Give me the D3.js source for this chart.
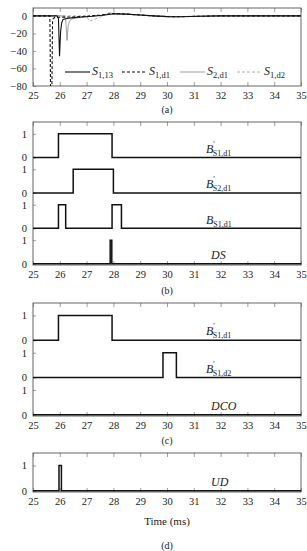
<!DOCTYPE html>
<html>
<head>
<meta charset="utf-8">
<script src="https://cdn.jsdelivr.net/npm/d3@7"></script>
<style>
  body { margin: 0; background: #fff; }
  svg { display: block; font-family: "Liberation Serif", "DejaVu Serif", serif; }
  .tick text { font-size: 10.5px; fill: #222; }
  .lbl { font-size: 12px; fill: #222; }
</style>
</head>
<body>
<div id="chart"></div>
<script>
// x axis shared by all panels
const timeTicks = [25, 26, 27, 28, 29, 30, 31, 32, 33, 34, 35];

// (a) signals, [time ms, value]
const s113 = [[25,0],[25.9,0],[25.95,-3],[25.99,-46],[26.03,-18],[26.07,-8],[26.12,-4],[26.25,-3],[26.5,-2],[26.8,-1.2],[27.2,-0.5],[27.6,0.8],[28,2.5],[28.5,2],[29,1],[29.5,0],[30,-0.8],[30.6,-1],[31.2,-0.4],[32,0],[35,0]];
const s1d1 = [[25,0],[25.63,0],[25.66,-100],[25.7,-100],[25.73,-4],[25.8,-2],[26,-1.5],[26.5,-1.2],[27,-0.4],[27.5,1],[28,2.8],[28.5,2],[29,1],[29.6,-0.2],[30.2,-1],[31,-0.6],[32,0],[35,0]];
const s2d1 = [[25,0],[26.18,0],[26.22,-4],[26.27,-28],[26.31,-12],[26.36,-6],[26.45,-3.5],[26.7,-2],[27,-1],[27.5,0.5],[28,2.2],[28.5,1.8],[29,0.8],[29.6,-0.3],[30.3,-1],[31,-0.5],[32,0],[35,0]];
const s1d2 = [[25,0],[27,0],[27.05,-3],[27.1,-6],[27.3,-4],[27.6,0],[27.8,3.5],[28.1,3],[28.5,2],[29,1],[29.6,0],[30.3,-0.8],[31,-0.5],[32,0],[35,0]];
const aTicks = [0, -20, -40, -60, -80];

// binary signals: switch times and the level held from each time on
const bS1d1pT = [25, 25.95, 27.95, 35], bS1d1pV = [0, 1, 0, 0];
const bS2d1pT = [25, 26.5, 28.0, 35],   bS2d1pV = [0, 1, 0, 0];
const bS1d1T  = [25, 25.95, 26.22, 27.95, 28.3, 35], bS1d1V = [0, 1, 0, 1, 0, 0];
const dsT     = [25, 27.88, 27.94, 35], dsV = [0, 1, 0, 0];
const bS1d2pT = [25, 29.85, 30.35, 35], bS1d2pV = [0, 1, 0, 0];
const dcoT    = [25, 35], dcoV = [0, 0];
const udT     = [25, 25.97, 26.06, 35], udV = [0, 1, 0, 0];

const W = 307, H = 551;
const x0 = 33, x1 = 301;
const svg = d3.select("#chart").append("svg").attr("width", W).attr("height", H);
const x = d3.scaleLinear().domain([25, 35]).range([x0, x1]);

let clipId = 0;
function frame(top, bottom, yScale, yTickVals, yTickFmt) {
  const g = svg.append("g");
  const id = "clip" + (clipId++);
  svg.append("clipPath").attr("id", id).append("rect")
    .attr("x", x0).attr("y", top).attr("width", x1 - x0).attr("height", bottom - top);
  // ticks point inward
  const bx = g.append("g").attr("transform", `translate(0,${bottom})`)
    .call(d3.axisBottom(x).tickValues(timeTicks).tickSize(-4).tickPadding(6).tickFormat(d3.format("d")));
  const tx = g.append("g").attr("transform", `translate(0,${top})`)
    .call(d3.axisTop(x).tickValues(timeTicks).tickSize(-4).tickFormat(""));
  const ly = g.append("g").attr("transform", `translate(${x0},0)`)
    .call(d3.axisLeft(yScale).tickValues(yTickVals).tickSize(-3).tickPadding(6).tickFormat(yTickFmt));
  [bx, tx, ly].forEach(a => {
    a.attr("font-family", null).attr("font-size", null);
    a.select(".domain").remove();
    a.selectAll(".tick line").attr("stroke", "#777").attr("stroke-width", 0.7);
  });
  g.append("rect").attr("x", x0).attr("y", top).attr("width", x1 - x0).attr("height", bottom - top)
    .attr("fill", "none").attr("stroke", "#555").attr("stroke-width", 0.9);
  return svg.append("g").attr("clip-path", `url(#${id})`);
}

function caption(txt, y) {
  svg.append("text").attr("class", "lbl").attr("x", (x0 + x1) / 2).attr("y", y)
    .attr("text-anchor", "middle").style("font-size", "10px").text(txt);
}

// ---------- (a)
const ya = d3.scaleLinear().domain([-80, 9]).range([86, 8]);
const pa = frame(8, 86, ya, aTicks, d => d === 0 ? "0" : "\u2212" + Math.abs(d));
const la = d3.line().x(d => x(d[0])).y(d => ya(d[1]));
const seriesA = [
  { data: s1d2, color: "#999", width: 0.8, dash: "3,2" },
  { data: s2d1, color: "#888", width: 0.8, dash: null },
  { data: s1d1, color: "#111", width: 1.1, dash: "3,2" },
  { data: s113, color: "#111", width: 1.1, dash: null }
];
seriesA.forEach(s => {
  pa.append("path").datum(s.data).attr("d", la).attr("fill", "none")
    .attr("stroke", s.color).attr("stroke-width", s.width).attr("stroke-dasharray", s.dash);
});

// legend
const legend = [
  { sub: "1,13", color: "#111", width: 1.1, dash: null, x: 65 },
  { sub: "1,d1", color: "#111", width: 1.1, dash: "3,2", x: 122 },
  { sub: "2,d1", color: "#888", width: 0.8, dash: null, x: 180 },
  { sub: "1,d2", color: "#999", width: 0.8, dash: "3,2", x: 237 }
];
legend.forEach(l => {
  svg.append("line").attr("x1", l.x).attr("x2", l.x + 25).attr("y1", 72).attr("y2", 72)
    .attr("stroke", l.color).attr("stroke-width", l.width).attr("stroke-dasharray", l.dash);
  const t = svg.append("text").attr("class", "lbl").attr("x", l.x + 27).attr("y", 75);
  t.append("tspan").style("font-style", "italic").text("S");
  t.append("tspan").attr("dy", 3).style("font-size", "8.5px").text(l.sub);
});
caption("(a)", 113);

// stacked binary panels
const stepLine = (ys, off) => d3.line().curve(d3.curveStepAfter).x(d => x(d[0])).y(d => ys(d[1] + off));

function binLabel(ys, off, italic, sub, prime, xc) {
  const t = svg.append("text").attr("class", "lbl").attr("x", xc).attr("y", ys(off + 0.2));
  t.append("tspan").style("font-style", "italic").text(italic);
  if (prime) {
    t.append("tspan").attr("dy", -6).style("font-size", "8px").text("'");
    t.append("tspan").attr("dx", -2).attr("dy", 9).style("font-size", "8px").text(sub);
  } else if (sub) {
    t.append("tspan").attr("dy", 3).style("font-size", "8px").text(sub);
  }
}

function stackPanel(top, bottom, tracks) {
  const n = tracks.length;
  const ys = d3.scaleLinear().domain([-0.05, 1.5 * (n - 1) + 1.5]).range([bottom, top]);
  const vals = [];
  tracks.forEach((tr, i) => { const off = 1.5 * (n - 1 - i); vals.push(off, off + 1); });
  const p = frame(top, bottom, ys, vals, v => (Math.round(v * 10) / 10) % 1.5 === 0 ? "0" : "1");
  tracks.forEach((tr, i) => {
    const off = 1.5 * (n - 1 - i);
    const pts = tr.t.map((t, k) => [t, tr.v[k]]);
    p.append("path").datum(pts).attr("d", stepLine(ys, off)).attr("fill", "none")
      .attr("stroke", "#111").attr("stroke-width", 1.5);
    binLabel(ys, off, tr.name, tr.sub, tr.prime, tr.sub ? 206 : 211);
  });
  return ys;
}

stackPanel(122, 265, [
  { t: bS1d1pT, v: bS1d1pV, name: "B", sub: "S1,d1", prime: true },
  { t: bS2d1pT, v: bS2d1pV, name: "B", sub: "S2,d1", prime: true },
  { t: bS1d1T,  v: bS1d1V,  name: "B", sub: "S1,d1", prime: false },
  { t: dsT,     v: dsV,     name: "DS", sub: null, prime: false }
]);
caption("(b)", 294);

stackPanel(303, 416, [
  { t: bS1d1pT, v: bS1d1pV, name: "B", sub: "S1,d1", prime: true },
  { t: bS1d2pT, v: bS1d2pV, name: "B", sub: "S1,d2", prime: true },
  { t: dcoT,    v: dcoV,    name: "DCO", sub: null, prime: false }
]);
caption("(c)", 444);

stackPanel(453, 492, [
  { t: udT, v: udV, name: "UD", sub: null, prime: false }
]);
svg.append("text").attr("class", "lbl").attr("x", (x0 + x1) / 2).attr("y", 525)
  .attr("text-anchor", "middle").style("font-size", "11px").text("Time (ms)");
caption("(d)", 549);
</script>
</body>
</html>
